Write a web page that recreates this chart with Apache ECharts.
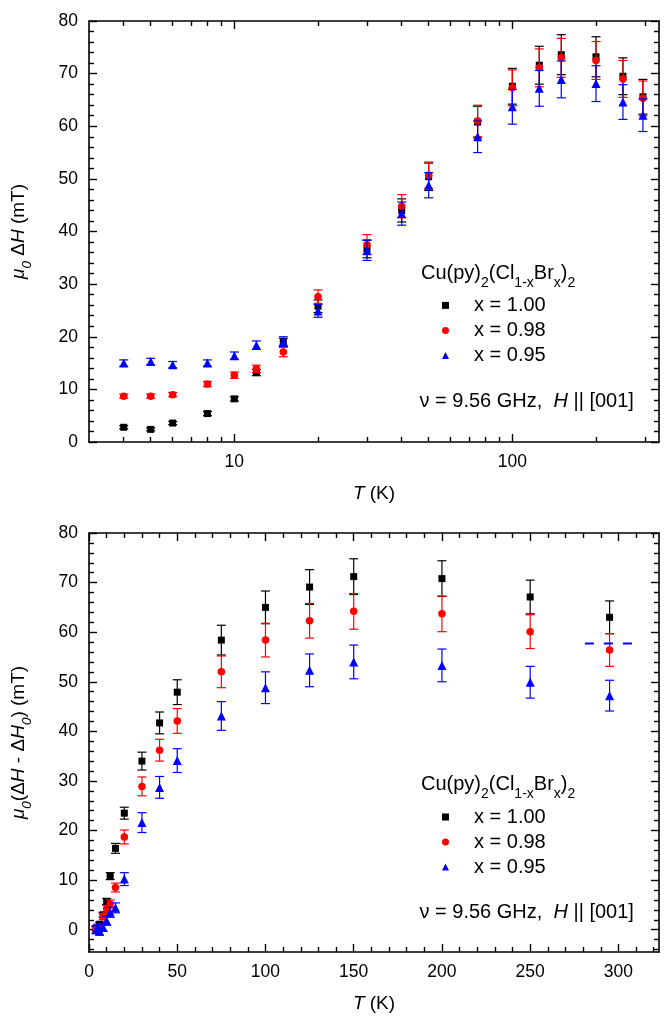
<!DOCTYPE html>
<html>
<head>
<meta charset="utf-8">
<script src="https://cdn.jsdelivr.net/npm/echarts@6/dist/echarts.min.js"></script>
<style>html,body{margin:0;padding:0;background:#fff}#c{width:668px;height:1017px}</style>
</head>
<body>
<div id="c"></div>
<script>
const FONT = '"Liberation Sans", Arial, Helvetica, sans-serif';

// ---------------- data ----------------
const temperatures = [4, 5, 6, 8, 10, 12, 15, 20, 30, 40, 50, 75, 100, 125, 150, 200, 250, 295];
const seriesNames = ['x = 1.00', 'x = 0.98', 'x = 0.95'];
const seriesColors = ['#000000', '#ff0000', '#0000ff'];
const seriesSymbols = ['rect', 'circle', 'triangle'];
const seriesSymbolSizes = [7, 7.5, 9];

// top panel: mu0 dH (mT)
const dH_100 = [2.8, 2.4, 3.6, 5.4, 8.2, 13.2, 18.9, 25.8, 36.7, 44.0, 50.4, 60.8, 67.6, 71.6, 73.6, 73.2, 69.5, 65.6];
const dH_100_err = [0.3, 0.3, 0.3, 0.4, 0.4, 0.6, 0.8, 1.2, 1.7, 2.2, 2.6, 3.0, 3.4, 3.6, 3.8, 3.8, 3.5, 3.3];
const dH_098 = [8.7, 8.7, 9.0, 11.0, 12.7, 13.9, 17.1, 27.6, 37.5, 44.8, 50.7, 61.0, 67.3, 71.1, 73.0, 72.5, 69.0, 65.3];
const dH_098_err = [0.4, 0.4, 0.4, 0.5, 0.6, 0.7, 0.9, 1.3, 1.9, 2.2, 2.5, 3.0, 3.4, 3.6, 3.7, 3.6, 3.5, 3.3];
const dH_095 = [15.0, 15.3, 14.7, 15.0, 16.4, 18.4, 19.1, 24.9, 36.4, 43.4, 48.8, 58.0, 63.7, 67.2, 68.9, 68.1, 64.6, 62.1];
const dH_095_err = [0.6, 0.6, 0.6, 0.6, 0.7, 0.8, 0.9, 1.2, 1.9, 2.2, 2.4, 3.0, 3.3, 3.4, 3.5, 3.4, 3.3, 3.1];

// bottom panel: mu0 (dH - dH0) (mT)
const dHr_100 = [0.3, 0.0, 1.1, 3.0, 5.7, 10.8, 16.4, 23.5, 34.0, 41.7, 47.9, 58.4, 65.0, 69.1, 71.2, 70.8, 67.1, 63.0];
const dHr_100_err = [0.4, 0.4, 0.4, 0.5, 0.6, 0.7, 1.0, 1.2, 1.8, 2.2, 2.5, 3.0, 3.3, 3.5, 3.6, 3.6, 3.4, 3.3];
const dHr_098 = [0.0, 0.0, 0.3, 2.6, 4.2, 5.2, 8.5, 18.7, 28.9, 36.2, 42.1, 52.0, 58.4, 62.3, 64.2, 63.7, 60.1, 56.4];
const dHr_098_err = [0.5, 0.5, 0.5, 0.6, 0.7, 0.8, 0.9, 1.4, 1.9, 2.2, 2.5, 3.2, 3.4, 3.5, 3.6, 3.6, 3.4, 3.3];
const dHr_095 = [0.0, 0.3, -0.3, 0.5, 1.8, 3.5, 4.4, 10.2, 21.6, 28.7, 34.1, 43.1, 48.8, 52.3, 54.0, 53.3, 49.9, 47.2];
const dHr_095_err = [0.8, 0.8, 0.8, 0.8, 0.9, 1.0, 1.0, 1.3, 2.0, 2.2, 2.4, 2.9, 3.2, 3.3, 3.4, 3.3, 3.2, 3.1];

// dashed reference segment (bottom panel)
const refLineT = [281, 308];
const refLineValue = 57.7;

// axis ranges and ticks
const topTMin = 3, topTMax = 337;
const topXMajor = [10, 100];
const topXMinor = [4, 5, 6, 7, 8, 9, 20, 30, 40, 50, 60, 70, 80, 90, 200, 300];
const topYMin = 0, topYMax = 80;
const topYMajor = [0, 10, 20, 30, 40, 50, 60, 70, 80];
const topYMinor = [2, 4, 6, 8, 12, 14, 16, 18, 22, 24, 26, 28, 32, 34, 36, 38, 42, 44, 46, 48, 52, 54, 56, 58, 62, 64, 66, 68, 72, 74, 76, 78];
const botTMin = 0, botTMax = 323;
const botXMajor = [0, 50, 100, 150, 200, 250, 300];
const botXMinor = [10, 20, 30, 40, 60, 70, 80, 90, 110, 120, 130, 140, 160, 170, 180, 190, 210, 220, 230, 240, 260, 270, 280, 290, 310, 320];
const botYMin = -4.5, botYMax = 80;
const botYMajor = [0, 10, 20, 30, 40, 50, 60, 70, 80];
const botYMinor = [-4, -2, 2, 4, 6, 8, 12, 14, 16, 18, 22, 24, 26, 28, 32, 34, 36, 38, 42, 44, 46, 48, 52, 54, 56, 58, 62, 64, 66, 68, 72, 74, 76, 78];

// ---------------- helpers ----------------
const LOG = v => Math.log10(v);

const nameRich = {
  n: { fontSize: 19, fontFamily: FONT, color: '#000', lineHeight: 30, verticalAlign: 'middle' },
  i: { fontSize: 19, fontFamily: FONT, color: '#000', fontStyle: 'italic', lineHeight: 30, verticalAlign: 'middle' },
  si: { fontSize: 13.5, fontFamily: FONT, color: '#000', fontStyle: 'italic', lineHeight: 13, verticalAlign: 'bottom' }
};

function tickPair(o) {
  const base = { gridIndex: o.gridIndex, type: 'value', min: o.min, max: o.max, position: o.position, splitLine: { show: false } };
  const label = { show: !!o.labels, customValues: o.major, margin: 11, color: '#000', fontSize: 17.5, fontFamily: FONT };
  if (o.formatter) label.formatter = o.formatter;
  const major = Object.assign({}, base, {
    axisLine: { show: true, onZero: false, lineStyle: { color: '#000', width: 1.6 } },
    axisTick: { show: true, inside: true, length: 8, customValues: o.major, lineStyle: { color: '#000', width: 1.4 } },
    axisLabel: label
  });
  if (o.name) {
    Object.assign(major, { name: o.name, nameLocation: 'middle', nameGap: o.nameGap, nameRotate: o.nameRotate || 0, nameTextStyle: { rich: nameRich } });
  }
  const minor = Object.assign({}, base, {
    axisLine: { show: false, onZero: false },
    axisTick: { show: true, inside: true, length: 5, customValues: o.minor, lineStyle: { color: '#000', width: 1.4 } },
    axisLabel: { show: false }
  });
  return [major, minor];
}

function errRender(color) {
  return function (params, api) {
    const x = api.value(0), y = api.value(1), e = api.value(2);
    const p1 = api.coord([x, y + e]);
    const p2 = api.coord([x, y - e]);
    const hw = 4.5;
    const st = { stroke: color, lineWidth: 1.2, fill: null };
    return {
      type: 'group', children: [
        { type: 'line', shape: { x1: p1[0], y1: p1[1], x2: p2[0], y2: p2[1] }, style: st },
        { type: 'line', shape: { x1: p1[0] - hw, y1: p1[1], x2: p1[0] + hw, y2: p1[1] }, style: st },
        { type: 'line', shape: { x1: p2[0] - hw, y1: p2[1], x2: p2[0] + hw, y2: p2[1] }, style: st }
      ]
    };
  };
}

function panelSeries(values, errors, xIdx, yIdx, tag) {
  const out = [];
  for (let k = 0; k < 3; k++) {
    out.push({
      type: 'custom', name: 'err' + tag + k, xAxisIndex: xIdx, yAxisIndex: yIdx, silent: true,
      renderItem: errRender(seriesColors[k]), encode: { x: 0, y: 1 }, z: 2 + k * 2,
      data: temperatures.map((t, i) => [t, values[k][i], errors[k][i]])
    });
    out.push({
      type: 'scatter', name: seriesNames[k], xAxisIndex: xIdx, yAxisIndex: yIdx, silent: true,
      symbol: seriesSymbols[k], symbolSize: seriesSymbolSizes[k], z: 3 + k * 2,
      itemStyle: { color: seriesColors[k], opacity: 1 },
      data: temperatures.map((t, i) => [t, values[k][i]])
    });
  }
  return out;
}

// ---------------- options ----------------
const xAxis = [
  { type: 'log', gridIndex: 0, min: topTMin, max: topTMax, logBase: 10, show: false },
  ...tickPair({ gridIndex: 0, min: LOG(topTMin), max: LOG(topTMax), position: 'bottom', major: topXMajor.map(LOG), minor: topXMinor.map(LOG), labels: true,
    formatter: v => String(Math.round(Math.pow(10, v))), name: '{i|T}{n| (K)}', nameGap: 37 }),
  ...tickPair({ gridIndex: 0, min: LOG(topTMin), max: LOG(topTMax), position: 'top', major: topXMajor.map(LOG), minor: topXMinor.map(LOG) }),
  ...tickPair({ gridIndex: 1, min: botTMin, max: botTMax, position: 'bottom', major: botXMajor, minor: botXMinor, labels: true,
    name: '{i|T}{n| (K)}', nameGap: 37 }),
  ...tickPair({ gridIndex: 1, min: botTMin, max: botTMax, position: 'top', major: botXMajor, minor: botXMinor })
];
const yAxis = [
  ...tickPair({ gridIndex: 0, min: topYMin, max: topYMax, position: 'left', major: topYMajor, minor: topYMinor, labels: true,
    name: '{i|μ}{si|0}{n| Δ}{i|H}{n| (mT)}', nameGap: 55, nameRotate: 90 }),
  ...tickPair({ gridIndex: 0, min: topYMin, max: topYMax, position: 'right', major: topYMajor, minor: topYMinor }),
  ...tickPair({ gridIndex: 1, min: botYMin, max: botYMax, position: 'left', major: botYMajor, minor: botYMinor, labels: true,
    name: '{i|μ}{si|0}{n|(Δ}{i|H}{n| - Δ}{i|H}{si|0}{n|) (mT)}', nameGap: 55, nameRotate: 90 }),
  ...tickPair({ gridIndex: 1, min: botYMin, max: botYMax, position: 'right', major: botYMajor, minor: botYMinor })
];

const series = [
  ...panelSeries([dH_100, dH_098, dH_095], [dH_100_err, dH_098_err, dH_095_err], 0, 0, 'a'),
  ...panelSeries([dHr_100, dHr_098, dHr_095], [dHr_100_err, dHr_098_err, dHr_095_err], 5, 4, 'b'),
  {
    type: 'line', name: 'ref', xAxisIndex: 5, yAxisIndex: 4, silent: true, symbol: 'none', z: 10,
    lineStyle: { color: '#0000ff', width: 2, type: [9, 10] },
    data: refLineT.map(t => [t, refLineValue])
  }
];

const textRich = {
  m: { fontSize: 20, fontFamily: FONT, fill: '#000', lineHeight: 34, verticalAlign: 'middle' },
  s: { fontSize: 14, fontFamily: FONT, fill: '#000', lineHeight: 14, verticalAlign: 'bottom' },
  i: { fontSize: 20, fontFamily: FONT, fill: '#000', fontStyle: 'italic', lineHeight: 22, verticalAlign: 'middle' },
  n: { fontSize: 20, fontFamily: FONT, fill: '#000', lineHeight: 22, verticalAlign: 'middle' }
};
const compoundText = '{m|Cu(py)}{s|2}{m|(Cl}{s|1-x}{m|Br}{s|x}{m|)}{s|2}';
const freqText = '{n|ν = 9.56 GHz,  }{i|H}{n| || [001]}';
const PANEL_SHIFT = 511.6;

function legendFor(top) {
  return {
    orient: 'vertical', left: 442, top: top, padding: 0, itemWidth: 7, itemHeight: 7, itemGap: 5,
    selectedMode: false, data: seriesNames,
    textStyle: { fontSize: 20, lineHeight: 20, fontFamily: FONT, color: '#000', padding: [0, 0, 0, 20] }
  };
}

const option = {
  animation: false,
  backgroundColor: '#ffffff',
  grid: [
    { left: 89, top: 21, width: 570, height: 421 },
    { left: 89, top: 533, width: 570, height: 419 }
  ],
  xAxis: xAxis,
  yAxis: yAxis,
  legend: [legendFor(295.4), legendFor(295.4 + PANEL_SHIFT)],
  graphic: [
    { type: 'text', x: 421, y: 273, silent: true, style: { text: compoundText, rich: textRich, verticalAlign: 'middle', align: 'left' } },
    { type: 'text', x: 419.5, y: 401.3, silent: true, style: { text: freqText, rich: textRich, verticalAlign: 'middle', align: 'left' } },
    { type: 'text', x: 421, y: 273 + PANEL_SHIFT, silent: true, style: { text: compoundText, rich: textRich, verticalAlign: 'middle', align: 'left' } },
    { type: 'text', x: 419.5, y: 401.3 + PANEL_SHIFT, silent: true, style: { text: freqText, rich: textRich, verticalAlign: 'middle', align: 'left' } }
  ],
  series: series
};

const chart = echarts.init(document.getElementById('c'), null, { renderer: 'canvas' });
chart.setOption(option);
</script>
</body>
</html>
